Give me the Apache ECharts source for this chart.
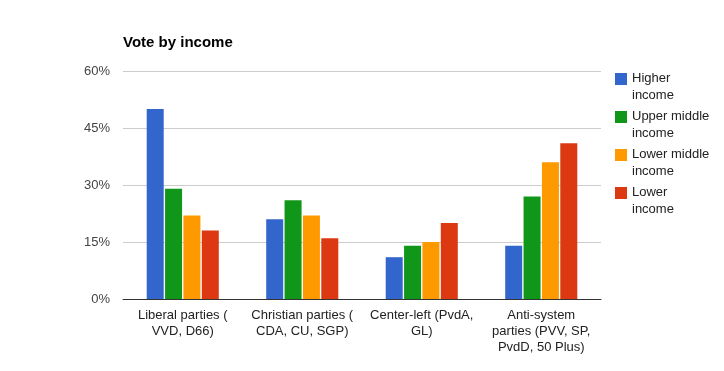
<!DOCTYPE html>
<html>
<head>
<meta charset="utf-8">
<script src="https://cdn.jsdelivr.net/npm/echarts@6/dist/echarts.min.js"></script>
<style>html,body{margin:0;padding:0;background:#fff}#c{width:724px;height:371px}</style>
</head>
<body>
<div id="c"></div>
<script>
const categories = ['Liberal parties (\nVVD, D66)', 'Christian parties (\nCDA, CU, SGP)', 'Center-left (PvdA,\nGL)', 'Anti-system\nparties (PVV, SP,\nPvdD, 50 Plus)'];
const seriesNames = ['Higher income', 'Upper middle income', 'Lower middle income', 'Lower income'];
const higherIncome = [50, 21, 11, 14];
const upperMiddleIncome = [29, 26, 14, 27];
const lowerMiddleIncome = [22, 22, 15, 36];
const lowerIncome = [18, 16, 20, 41];
const yTicks = [0, 15, 30, 45, 60];
const colors = ['#3366cc', '#109618', '#ff9900', '#dc3912'];

const values = [higherIncome, upperMiddleIncome, lowerMiddleIncome, lowerIncome];
const font = '"Liberation Sans", Arial, sans-serif';
const chart = echarts.init(document.getElementById('c'));
chart.setOption({
  animation: false,
  color: colors,
  title: {
    text: 'Vote by income', left: 118, top: 30,
    textStyle: { fontFamily: font, fontSize: 15, fontWeight: 'bold', color: '#000' }
  },
  legend: {
    orient: 'vertical', left: 610, top: 65, itemWidth: 12, itemHeight: 34, itemGap: 4, itemStyle: { borderWidth: 0 },
    icon: 'path://M0,0L0.01,0L0.01,0.01Z M0,3L12,3L12,15L0,15Z M11.99,34L12,34L12,33.99Z',
    formatter: n => n.replace(/ income$/, '\nincome'),
    textStyle: { fontFamily: font, fontSize: 13, color: '#222', lineHeight: 17 },
    data: seriesNames
  },
  grid: { left: 123, right: 123, top: 71, bottom: 72 },
  xAxis: {
    type: 'category', data: categories,
    axisLine: { lineStyle: { color: '#333', width: 1 } },
    axisTick: { show: false },
    axisLabel: { fontFamily: font, fontSize: 13, color: '#222', lineHeight: 16, margin: 8, interval: 0 }
  },
  yAxis: {
    type: 'value', min: yTicks[0], max: yTicks[yTicks.length - 1], interval: yTicks[1] - yTicks[0],
    axisLabel: { formatter: '{value}%', fontFamily: font, fontSize: 13, color: '#444', margin: 13 },
    splitLine: { lineStyle: { color: '#cccccc' } },
    axisLine: { show: false }, axisTick: { show: false }
  },
  series: seriesNames.map((n, i) => ({
    name: n, type: 'bar', data: values[i], barWidth: 17, barGap: '8%'
  }))
});
</script>
</body>
</html>
